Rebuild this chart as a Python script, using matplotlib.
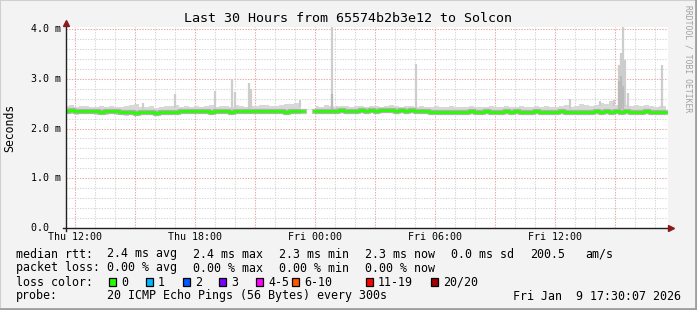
import numpy as np
import matplotlib
matplotlib.use("Agg")
import matplotlib.pyplot as plt
from matplotlib.lines import Line2D
from matplotlib.patches import Rectangle

W, H = 697, 310

# time axis in hours relative to Thu 12:00, one sample every 15 minutes
hours = np.arange(121) * 0.25 - 0.45

# median rtt (ms), NaN = no data
median = [2.36, 2.37, 2.36, 2.35, 2.36, 2.36, 2.35, 2.34, 2.35, 2.36, 2.35, 2.34,
          2.33, 2.33, 2.32, 2.33, 2.34, 2.33, 2.32, 2.33, 2.34, 2.33, 2.34, 2.35,
          2.35, 2.36, 2.35, 2.36, 2.35, 2.34, 2.35, 2.36, 2.35, 2.34, 2.35, 2.36,
          2.36, 2.35, 2.36, 2.35, 2.36, 2.35, 2.36, 2.35, 2.34, 2.35, 2.35, 2.35,
          np.nan, np.nan,
          2.35, 2.36, 2.35, 2.36, 2.36, 2.37, 2.36, 2.35, 2.36, 2.37,
          2.36, 2.37, 2.36, 2.37, 2.38, 2.37, 2.36, 2.37, 2.36, 2.37, 2.36, 2.36,
          2.35, 2.34, 2.33, 2.33, 2.34, 2.33, 2.34, 2.33, 2.34, 2.35, 2.34, 2.34,
          2.35, 2.34, 2.33, 2.34, 2.35, 2.34, 2.35, 2.34, 2.33, 2.34, 2.35, 2.34,
          2.34, 2.33, 2.34, 2.35, 2.34, 2.33, 2.34, 2.34, 2.33, 2.34, 2.35, 2.34,
          2.35, 2.34, 2.35, 2.34, 2.35, 2.34, 2.33, 2.34, 2.35, 2.34, 2.34, 2.33, 2.34]

smoke_hi = [2.45, 2.47, 2.44, 2.46, 2.45, 2.43, 2.44, 2.46, 2.44, 2.45, 2.43, 2.44,
            2.46, 2.48, 2.50, 2.44, 2.43, 2.45, 2.42, 2.44, 2.46, 2.45, 2.47, 2.44,
            2.45, 2.44, 2.46, 2.43, 2.45, 2.47, 2.44, 2.46, 2.45, 2.44, 2.48, 2.45,
            2.44, 2.46, 2.45, 2.47, 2.48, 2.46, 2.45, 2.47, 2.50, 2.49, 2.52, 2.48,
            np.nan, np.nan,
            2.46, 2.44, 2.47, 2.45, 2.44, 2.46, 2.45, 2.44, 2.46, 2.45,
            2.44, 2.46, 2.45, 2.44, 2.46, 2.47, 2.45, 2.44, 2.46, 2.45, 2.44, 2.45,
            2.44, 2.43, 2.45, 2.44, 2.43, 2.45, 2.44, 2.43, 2.44, 2.46, 2.44, 2.43,
            2.44, 2.45, 2.43, 2.44, 2.46, 2.44, 2.43, 2.45, 2.44, 2.43, 2.45, 2.44,
            2.45, 2.44, 2.43, 2.46, 2.48, 2.44, 2.45, 2.50, 2.47, 2.46, 2.48, 2.52,
            2.50, 2.55, 2.48, 2.49, 2.47, 2.46, 2.48, 2.45, 2.47, 2.46, 2.44, 2.46, 2.45]

smoke_lo = [2.29, 2.30, 2.28, 2.29, 2.30, 2.29, 2.28, 2.27, 2.28, 2.29, 2.28, 2.27,
            2.26, 2.27, 2.26, 2.27, 2.28, 2.27, 2.26, 2.27, 2.28, 2.27, 2.28, 2.29,
            2.29, 2.30, 2.29, 2.30, 2.29, 2.28, 2.29, 2.30, 2.29, 2.28, 2.29, 2.30,
            2.30, 2.29, 2.30, 2.29, 2.30, 2.29, 2.30, 2.29, 2.28, 2.29, 2.29, 2.29,
            np.nan, np.nan,
            2.29, 2.30, 2.29, 2.30, 2.30, 2.31, 2.30, 2.29, 2.30, 2.31,
            2.30, 2.31, 2.30, 2.31, 2.32, 2.31, 2.30, 2.31, 2.30, 2.31, 2.30, 2.30,
            2.29, 2.28, 2.27, 2.27, 2.28, 2.27, 2.28, 2.27, 2.28, 2.29, 2.28, 2.28,
            2.29, 2.28, 2.27, 2.28, 2.29, 2.28, 2.29, 2.28, 2.27, 2.28, 2.29, 2.28,
            2.28, 2.27, 2.28, 2.29, 2.28, 2.27, 2.28, 2.28, 2.27, 2.28, 2.29, 2.28,
            2.29, 2.28, 2.29, 2.28, 2.29, 2.28, 2.27, 2.28, 2.29, 2.28, 2.28, 2.27, 2.28]

# narrow spikes of the slowest pings
spike_t = [3.4, 5.0, 7.0, 7.85, 8.0, 8.7, 8.8, 11.25, 12.85, 13.1, 17.05,
           24.75, 26.25, 26.95, 27.2, 27.3, 27.4, 27.5, 27.65, 29.35]
spike_top = [2.51, 2.69, 2.75, 3.00, 2.73, 2.92, 2.80, 2.57, 4.10, 2.45, 3.30,
             2.60, 2.55, 2.57, 3.28, 3.52, 4.10, 3.38, 2.71, 3.28]
spike_dark_t = [12.85, 27.2, 27.3, 27.4]
spike_dark_top = [2.70, 2.95, 3.05, 2.85]

ytick_vals = [0, 1, 2, 3, 4]
ytick_labels = ["0.0  ", "1.0 m", "2.0 m", "3.0 m", "4.0 m"]
xtick_vals = [0, 6, 12, 18, 24]
xtick_labels = ["Thu 12:00", "Thu 18:00", "Fri 00:00", "Fri 06:00", "Fri 12:00"]

loss_labels = ["0", "1", "2", "3", "4-5", "6-10", "11-19", "20/20"]
loss_colors = ["#26ff00", "#00b8ff", "#0059ff", "#7e00ff", "#ff00ff", "#ff5500", "#ff0000", "#a10000"]
loss_x = [109, 146, 183, 219, 256, 292, 366, 431]

rtt_row = ["2.4 ms avg", "2.4 ms max", "2.3 ms min", "2.3 ms now", "0.0 ms sd", "200.5", "am/s"]
rtt_x = [107, 193, 279, 365, 451, 530, 585]
loss_row = ["0.00 % avg", "0.00 % max", "0.00 % min", "0.00 % now"]
loss_row_x = [107, 193, 279, 365]

MONO = "DejaVu Sans Mono"


def fx(x):
    return x / W


def fy(y):
    return 1 - y / H


fig = plt.figure(figsize=(W / 100, H / 100), dpi=100, facecolor="#f3f3f3")

# rrdtool style frame
fig.add_artist(Rectangle((0, 0), 1, 1, transform=fig.transFigure, fill=False,
                         edgecolor="#cfcfcf", lw=1.5))
fig.add_artist(Line2D([fx(1), fx(696)], [fy(309), fy(309)], transform=fig.transFigure,
                      color="#9e9e9e", lw=2))
fig.add_artist(Line2D([fx(696), fx(696)], [fy(1), fy(309)], transform=fig.transFigure,
                      color="#9e9e9e", lw=2))

left, right, top, bottom = 66, 668, 27, 228
ax = fig.add_axes([fx(left), fy(bottom), (right - left) / W, (bottom - top) / H])
ax.set_facecolor("white")
ax.set_xlim(-0.45, 29.65)
ax.set_ylim(0, (bottom - top) / 49.75)
for s in ax.spines.values():
    s.set_visible(False)
ax.set_xticks([])
ax.set_yticks([])

# grid
for h in np.arange(0, 30):
    major = h % 3 == 0
    ax.axvline(h, color="#eaa6a6" if major else "#d6d6d6", lw=0.75,
               ls=(0, (1.3, 1.3)), zorder=1)
for v in np.arange(0.2, 4.01, 0.2):
    major = abs(v - round(v)) < 1e-6
    ax.axhline(v, color="#eaa6a6" if major else "#d6d6d6", lw=0.75,
               ls=(0, (1.3, 1.3)), zorder=1)

# smoke
ax.fill_between(hours, smoke_lo, smoke_hi, step="mid", color="#d8d8d8", lw=0, zorder=2)
hi_interp = np.interp(spike_t, hours, np.nan_to_num(np.array(smoke_hi), nan=2.45))
ax.vlines(spike_t, hi_interp - 0.05, spike_top, color="#cdcdcd", lw=1.6, zorder=2)
ax.vlines(spike_dark_t, 2.4, spike_dark_top, color="#bababa", lw=1.6, zorder=3)
ax.step(hours, median, where="mid", color="#8a8a8a", lw=3.8, alpha=0.5, zorder=3)
ax.step(hours, median, where="mid", color="#26ff00", lw=2.0, zorder=4)

# axes lines and arrows
fig.add_artist(Line2D([fx(left), fx(left)], [fy(bottom + 3), fy(top - 3)],
                      transform=fig.transFigure, color="#202020", lw=1))
fig.add_artist(Line2D([fx(left - 3), fx(right + 2)], [fy(bottom), fy(bottom)],
                      transform=fig.transFigure, color="#202020", lw=1))
fig.add_artist(Line2D([fx(left)], [fy(23)], transform=fig.transFigure, marker="^",
                      ms=5, color="#8b1a1a", lw=0))
fig.add_artist(Line2D([fx(671)], [fy(bottom)], transform=fig.transFigure, marker=">",
                      ms=5, color="#8b1a1a", lw=0))

# tick labels
for v, lab in zip(ytick_vals, ytick_labels):
    fig.text(fx(61), fy(bottom - v * 49.75), lab, ha="right", va="center",
             family=MONO, fontsize=7.2)
for h, lab in zip(xtick_vals, xtick_labels):
    fig.text(fx(75 + h * 20), fy(237.5), lab, ha="center", va="center",
             family=MONO, fontsize=7.2)

fig.text(fx(348), fy(19), "Last 30 Hours from 65574b2b3e12 to Solcon", ha="center",
         va="center", family=MONO, fontsize=9.6)
fig.text(fx(10), fy(128), "Seconds", rotation=90, ha="center", va="center",
         family=MONO, fontsize=8.3)
fig.text(fx(688), fy(5), "RRDTOOL / TOBI OETIKER", rotation=-90, ha="center", va="top",
         family=MONO, fontsize=5.8, color="#a0a0a0")

# legend block
lfs = 8.4
fig.text(fx(16), fy(254), "median rtt:", va="center", family=MONO, fontsize=lfs)
for x, t in zip(rtt_x, rtt_row):
    fig.text(fx(x), fy(254), t, va="center", family=MONO, fontsize=lfs)
fig.text(fx(16), fy(268), "packet loss:", va="center", family=MONO, fontsize=lfs)
for x, t in zip(loss_row_x, loss_row):
    fig.text(fx(x), fy(268), t, va="center", family=MONO, fontsize=lfs)
fig.text(fx(16), fy(282), "loss color:", va="center", family=MONO, fontsize=lfs)
for x, c, t in zip(loss_x, loss_colors, loss_labels):
    fig.add_artist(Rectangle((fx(x), fy(286)), 7 / W, 8 / H, transform=fig.transFigure,
                             facecolor=c, edgecolor="black", lw=0.9))
    fig.text(fx(x + 12), fy(282), t, va="center", family=MONO, fontsize=lfs)
fig.text(fx(16), fy(296), "probe:", va="center", family=MONO, fontsize=lfs)
fig.text(fx(107), fy(296), "20 ICMP Echo Pings (56 Bytes) every 300s", va="center",
         family=MONO, fontsize=lfs)
fig.text(fx(513), fy(296), "Fri Jan  9 17:30:07 2026", va="center", family=MONO,
         fontsize=lfs)

fig.savefig("out.png", dpi=100, facecolor=fig.get_facecolor())
